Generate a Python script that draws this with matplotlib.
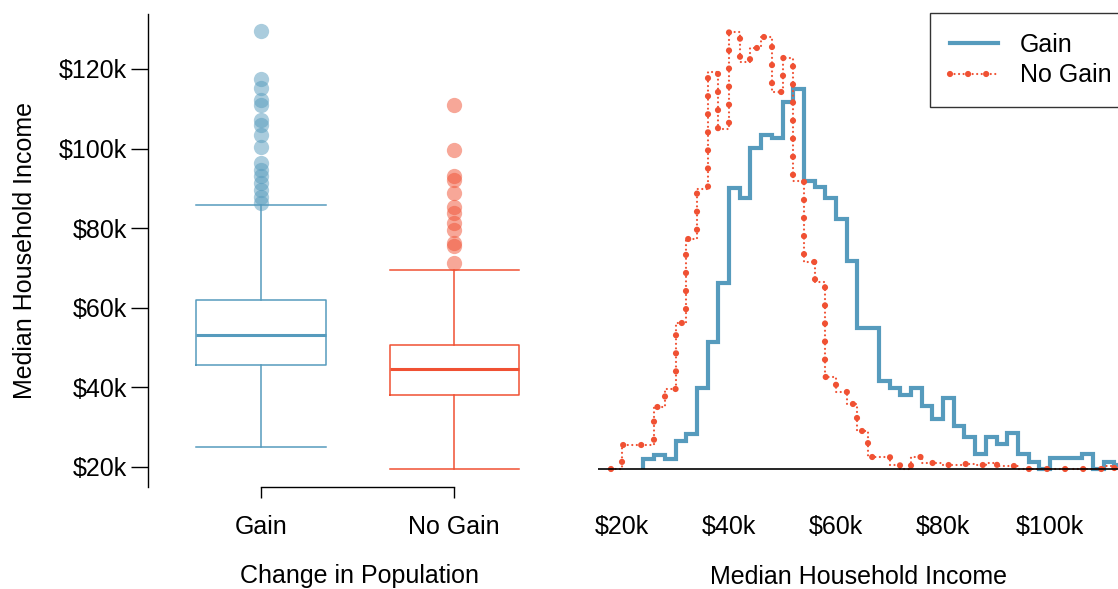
import matplotlib.pyplot as plt
import numpy as np
from matplotlib.lines import Line2D

plt.rcParams['font.family'] = ['Liberation Sans', 'DejaVu Sans']
plt.rcParams['lines.scale_dashes'] = False

blue = '#569BBD'
red = '#F05133'

# box plot summaries ($k)
groups = ['Gain', 'No Gain']
q1 = [45.6, 38.1]
med = [53.2, 44.6]
q3 = [62.0, 50.7]
whislo = [25.0, 19.5]
whishi = [85.8, 69.5]
gain_out = [129.5, 117.5, 115.1, 112.2, 111.0, 107.2, 106.0, 103.4, 100.5,
            96.4, 94.6, 93.0, 91.3, 89.6, 87.9, 86.3]
nogain_out = [111.0, 99.7, 93.0, 92.1, 88.8, 85.4, 83.8, 81.3, 79.5, 76.3,
              75.4, 71.2]

# histogram heights (relative), bins of $2k
gain_edges = np.arange(24, 116, 2)
gain_hist = [10, 14, 10, 28, 35, 81, 127, 186, 281, 271, 321, 334, 331, 367,
             380, 288, 282, 271, 250, 208, 141, 141, 88, 81, 74, 81, 63, 50,
             71, 43, 32, 15, 32, 25, 36, 15, 7, 0, 11, 11, 11, 15, 0, 7, 4]
nogain_edges = np.arange(18, 116, 2)
nogain_hist = [0, 24, 24, 24, 62, 80, 146, 230, 280, 397, 340, 437, 407, 421,
               432, 377, 411, 288, 207, 187, 92, 77, 65, 38, 12, 12, 4, 0, 12,
               6, 6, 4, 4, 5, 4, 6, 3, 3, 0, 0, 0, 0, 0, 0, 0, 0, 3, 1]

fig = plt.figure(figsize=(11.18, 5.89), dpi=100)
ax1 = fig.add_axes([0.1324, 0.1732, 0.3776, 0.803])
ax2 = fig.add_axes([0.5349, 0.1732, 0.4651, 0.803])

# ---- left: box plots
colors = [blue, red]
outs = [gain_out, nogain_out]
for i in range(2):
    st = [{'med': med[i], 'q1': q1[i], 'q3': q3[i], 'whislo': whislo[i],
           'whishi': whishi[i], 'fliers': outs[i]}]
    c = colors[i]
    ax1.bxp(st, positions=[i + 1], widths=0.67, capwidths=0.67,
            boxprops=dict(color=c, lw=1.1),
            whiskerprops=dict(color=c, lw=1.1),
            capprops=dict(color=c, lw=1.1),
            medianprops=dict(color=c, lw=2.2),
            flierprops=dict(marker='o', markerfacecolor=c, markeredgecolor='none',
                            markersize=11, alpha=0.5))

ax1.set_xlim(0.415, 2.6)
ax1.set_ylim(14.97, 133.8)
ax1.set_yticks([20, 40, 60, 80, 100, 120])
ax1.set_yticklabels(['$%dk' % v for v in [20, 40, 60, 80, 100, 120]])
ax1.set_xticks([1, 2])
ax1.set_xticklabels(groups)
for s in ['top', 'right']:
    ax1.spines[s].set_visible(False)
ax1.spines['bottom'].set_bounds(1, 2)
ax1.spines['left'].set_linewidth(1.0)
ax1.spines['bottom'].set_linewidth(1.0)
ax1.tick_params(axis='y', length=12, width=1.0, labelsize=18, pad=3)
ax1.tick_params(axis='x', length=8, width=1.0, labelsize=18, pad=12)
ax1.set_ylabel('Median Household Income', fontsize=18, labelpad=16)
ax1.set_xlabel('Change in Population', fontsize=18, labelpad=18)

# ---- right: histograms
ax2.stairs(gain_hist, gain_edges, color=blue, lw=3, baseline=0)
big = ax2.stairs(nogain_hist, nogain_edges, color=red, lw=4.5, baseline=0,
                 linestyle=(0, (0.01, 13)))
big.set_capstyle('round')
small = ax2.stairs(nogain_hist, nogain_edges, color=red, lw=1.6, baseline=0,
                   linestyle=(0, (0.01, 3.25)))
small.set_capstyle('round')
ax2.axhline(0, color='black', lw=1.2)

ax2.set_xlim(15.51, 112.71)
ax2.set_ylim(-18, 455)
ax2.set_xticks([20, 40, 60, 80, 100])
ax2.set_xticklabels(['$%dk' % v for v in [20, 40, 60, 80, 100]])
ax2.set_yticks([])
for s in ['top', 'right', 'left', 'bottom']:
    ax2.spines[s].set_visible(False)
ax2.tick_params(axis='x', length=0, labelsize=18, pad=20)
ax2.set_xlabel('Median Household Income', fontsize=18, labelpad=19)

h_gain = Line2D([], [], color=blue, lw=3)
h_big = Line2D([], [], color=red, lw=4.5, linestyle=(0, (0.01, 13)),
               dash_capstyle='round')
h_small = Line2D([], [], color=red, lw=1.6, linestyle=(0, (0.01, 3.25)),
                 dash_capstyle='round')
leg = fig.legend([h_gain, (h_small, h_big)], ['Gain', 'No Gain'],
                 loc='upper left', bbox_to_anchor=(930 / 1118, 1 - 13 / 589),
                 borderaxespad=0, fontsize=18, frameon=True, fancybox=False,
                 handlelength=1.9, handletextpad=0.9, borderpad=0.8,
                 labelspacing=0.25)
leg.get_frame().set_edgecolor('black')
leg.get_frame().set_linewidth(1.0)

fig.savefig('out.png', dpi=100)
